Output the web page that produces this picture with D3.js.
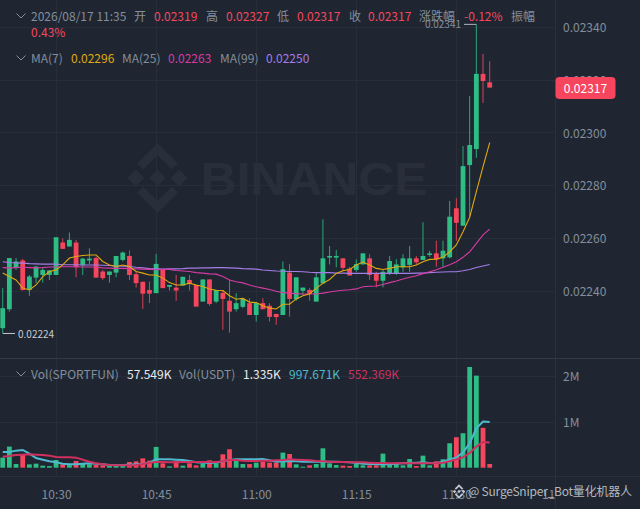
<!DOCTYPE html>
<html><head><meta charset="utf-8">
<script src="https://cdn.jsdelivr.net/npm/d3@7/dist/d3.min.js"></script>
<style>html,body{margin:0;padding:0;background:#1f2631;overflow:hidden}svg{display:block}
text{font-family:"Noto Sans CJK SC","Noto Sans",sans-serif}</style></head><body>
<script>
// prices are in units of 0.00001
const open=[2225.7,2232.9,2248.7,2251.4,2240.2,2244.9,2245.9,2245.9,2245.9,2258.2,2256.7,2258.2,2249.6,2251.4,2252.3,2247.2,2245.9,2246.8,2251.6,2253.1,2246.2,2243.3,2240.2,2239.0,2248.1,2241.4,2241.1,2241.9,2244.0,2242.1,2235.8,2244.2,2235.8,2239.1,2236.1,2232.9,2233.8,2235.2,2230.7,2235.2,2234.2,2231.1,2230.7,2246.8,2236.7,2239.9,2240.2,2235.8,2242.7,2252.5,2252.5,2252.2,2248.3,2247.8,2249.9,2252.2,2246.5,2243.7,2246.5,2246.5,2248.8,2249.7,2252.2,2251.6,2253.5,2254.1,2252.2,2252.6,2271.2,2264.6,2287.6,2293.7,2322.2,2319];
const high=[2240.9,2252.3,2252.3,2252.0,2245.9,2249.3,2248.8,2247.8,2260.2,2259.8,2262.0,2259.2,2252.4,2256.0,2252.9,2247.8,2247.2,2253.1,2254.8,2255.2,2247.2,2243.3,2243.4,2253.9,2248.1,2242.1,2245.9,2245.2,2245.9,2242.1,2244.2,2244.2,2240.2,2240.2,2244.0,2239.0,2237.1,2237.1,2235.2,2237.1,2235.2,2231.1,2251.0,2250.0,2245.0,2241.1,2240.9,2246.9,2267.0,2256.9,2255.4,2252.2,2249.0,2251.8,2254.1,2253.8,2247.1,2247.8,2253.1,2251.9,2253.8,2256.9,2253.1,2265.9,2255.1,2258.9,2258.9,2274.0,2275.0,2294.8,2313.8,2341,2329.8,2327];
const low=[2223.8,2232.0,2247.8,2240.0,2238.0,2242.8,2243.0,2244.0,2245.9,2255.8,2256.7,2245.0,2245.9,2250.0,2244.9,2244.0,2243.0,2245.0,2251.0,2244.0,2241.1,2233.0,2235.2,2239.0,2240.9,2240.0,2236.1,2241.9,2240.0,2233.9,2235.8,2234.2,2235.2,2225.1,2224.0,2232.0,2233.3,2230.7,2228.2,2232.9,2228.2,2227.0,2230.7,2230.1,2236.1,2238.3,2236.1,2235.8,2242.7,2249.9,2248.8,2247.5,2245.7,2247.1,2249.9,2244.0,2241.2,2241.2,2245.9,2245.9,2247.1,2247.1,2249.9,2251.6,2252.8,2249.0,2249.0,2252.2,2258.9,2264.6,2268.0,2290.3,2311.2,2317];
const close=[2233.3,2252.3,2251.0,2240.2,2245.3,2249.1,2247.8,2247.6,2260.2,2255.8,2259.2,2248.8,2252.1,2252.1,2244.9,2244.7,2247.2,2253.1,2254.4,2245.9,2242.8,2238.8,2238.8,2250.1,2240.9,2242.1,2240.0,2245.2,2242.6,2233.9,2244.2,2234.9,2240.2,2236.8,2232.0,2235.2,2236.8,2230.7,2235.2,2232.9,2230.0,2229.9,2248.1,2236.8,2245.0,2241.1,2238.7,2245.0,2252.2,2253.1,2253.1,2248.6,2245.7,2250.0,2254.1,2245.9,2243.7,2247.1,2251.2,2249.9,2252.2,2252.2,2250.7,2253.1,2254.1,2251.8,2255.1,2268.0,2265.7,2287.2,2295.2,2322.2,2319.5,2317];
const ma7=[2246.6,2245.3,2244.0,2240.9,2240.2,2242.1,2245.3,2247.2,2247.8,2249.7,2252.3,2252.9,2253.3,2253.5,2253.5,2251.0,2249.7,2249.1,2249.7,2249.1,2247.2,2246.6,2245.9,2245.9,2244.7,2243.0,2242.1,2242.1,2242.8,2242.1,2241.5,2240.6,2240.1,2240.0,2238.0,2236.7,2237.0,2235.6,2235.4,2234.2,2233.3,2233.0,2234.8,2234.8,2236.8,2238.0,2238.7,2240.9,2242.7,2244.2,2246.5,2247.5,2248.0,2249.7,2250.8,2249.7,2248.4,2248.0,2248.4,2249.0,2249.0,2249.0,2249.7,2250.9,2251.8,2251.9,2252.6,2254.7,2257.3,2262.3,2267.8,2277.5,2287.0,2296.1];
const ma25=[2248.7,2248.6,2248.7,2248.8,2248.7,2248.6,2248.7,2248.9,2248.9,2249.0,2249.0,2249.0,2248.9,2248.9,2248.8,2248.6,2248.5,2248.4,2248.4,2248.3,2248.2,2248.1,2248.0,2247.9,2248.0,2248.0,2247.6,2247.4,2247.2,2246.8,2246.6,2246.3,2246.2,2245.3,2244.0,2243.3,2242.9,2242.1,2241.4,2240.9,2240.4,2239.7,2239.2,2239.0,2238.8,2238.7,2238.7,2238.7,2239.0,2239.4,2239.8,2240.1,2240.3,2240.6,2241.4,2241.6,2241.7,2242.3,2243.0,2243.6,2244.4,2245.0,2245.6,2246.4,2247.1,2247.9,2248.8,2249.8,2250.9,2252.6,2254.7,2257.9,2261.1,2263.3];
const ma99=[2250.9,2250.6,2250.5,2250.4,2250.2,2250.1,2250.0,2250.0,2250.0,2249.8,2249.8,2249.8,2249.7,2249.7,2249.7,2249.6,2249.5,2249.3,2249.2,2249.1,2248.8,2248.6,2248.3,2248.2,2248.1,2248.2,2248.2,2248.3,2248.5,2248.5,2248.6,2248.6,2248.7,2248.7,2248.6,2248.5,2248.3,2248.2,2248.1,2247.8,2247.6,2247.4,2247.3,2247.2,2247.2,2247.1,2246.9,2246.8,2246.8,2246.8,2246.6,2246.6,2246.5,2246.5,2246.5,2246.5,2246.5,2246.5,2246.5,2246.5,2246.5,2246.5,2246.6,2246.6,2246.8,2246.9,2247.0,2247.1,2247.1,2247.5,2248.0,2248.7,2249.3,2249.9];
// volumes in thousands
const vol=[219,460,80,277,73,88,44,36,168,73,58,146,95,73,58,51,44,36,51,124,139,204,153,453,95,29,146,44,95,51,88,161,95,292,402,146,80,80,110,131,110,110,329,299,73,22,51,80,423,95,58,44,36,80,51,51,51,307,66,80,51,190,36,263,51,139,183,533,664,752,2197,2008,869,80];
const volMaUsdtFast=[343,343,372,387,307,212,175,139,117,88,73,73,88,95,88,73,58,51,58,66,73,88,110,182,182,182,175,168,146,117,110,110,110,139,168,182,182,182,182,190,161,131,139,146,139,131,131,131,131,131,131,124,117,102,88,80,73,73,73,88,95,102,110,117,102,95,131,182,219,328,533,861,1007,998];
const volMaUsdtSlow=[241,256,277,285,292,285,277,263,234,226,226,219,175,131,95,73,58,51,51,51,58,80,110,124,124,117,117,124,124,124,124,124,124,139,168,168,153,146,146,153,153,161,168,182,175,168,161,146,139,131,124,124,117,117,117,110,102,102,95,95,95,95,95,95,95,95,110,139,182,226,321,460,562,552];
const priceTicks=[2240,2260,2280,2300,2320,2340];
const volTicks=[1000,2000];
const volTickLabels=["1M","2M"];
const timeTickIndex=[8,23,38,53,68,83];
const timeTickLabels=["10:30","10:45","11:00","11:15","11:30","11:45"];
const headerRow=[["2026/08/17 11:35",31,"g"],["开",134,"g"],["0.02319",154,"r"],["高",206,"g"],["0.02327",226,"r"],["低",277,"g"],["0.02317",297,"r"],["收",349,"g"],["0.02317",368,"r"],["涨跌幅",419,"g"],["-0.12%",464,"r"],["振幅",511,"g"]];
const maRow=[["MA(7)",31,"g"],["0.02296",71,"y"],["MA(25)",122,"g"],["0.02263",168,"p"],["MA(99)",220,"g"],["0.02250",266,"v"]];
const volRow=[["Vol(SPORTFUN)",31,"g"],["57.549K",127,"w"],["Vol(USDT)",179,"g"],["1.335K",243,"w"],["997.671K",289,"c"],["552.369K",348,"m"]];

const W=640,H=509,paneR=555;
const green="#2ebd85",red="#f6465d",grid="#272e39",grey="#848e9c";
const col={g:grey,r:red,y:"#e0a90e",p:"#d63ba3",v:"#a67ce8",w:"#eaecef",c:"#4fb9cf",m:"#cf3060"};
const svg=d3.select("body").append("svg").attr("width",W).attr("height",H);
svg.append("rect").attr("width",W).attr("height",H).attr("fill","#1f2631");
svg.append("defs").append("clipPath").attr("id","pane").append("rect").attr("width",paneR).attr("height",H);

const x=d3.scaleLinear().domain([0,73]).range([2.7,489.7]);
const y=d3.scaleLinear().domain([2340,2240]).range([27,290.5]);
const yv=d3.scaleLinear().domain([0,2000]).range([467.7,376]);

// grid
const gg=svg.append("g").attr("stroke",grid).attr("stroke-width",1).attr("clip-path","url(#pane)");
priceTicks.forEach(t=>gg.append("line").attr("x1",0).attr("x2",paneR).attr("y1",Math.round(y(t))+.5).attr("y2",Math.round(y(t))+.5));
volTicks.forEach(t=>gg.append("line").attr("x1",0).attr("x2",paneR).attr("y1",Math.round(yv(t))+.5).attr("y2",Math.round(yv(t))+.5));
timeTickIndex.forEach(t=>gg.append("line").attr("x1",Math.round(x(t))+.5).attr("x2",Math.round(x(t))+.5).attr("y1",0).attr("y2",476));
svg.append("line").attr("x1",paneR+.5).attr("x2",paneR+.5).attr("y1",0).attr("y2",H).attr("stroke","#2b313c");
svg.append("line").attr("x1",0).attr("x2",W).attr("y1",358.5).attr("y2",358.5).attr("stroke","#333a45");
svg.append("line").attr("x1",0).attr("x2",W).attr("y1",476.5).attr("y2",476.5).attr("stroke","#2b313c");

// big watermark
const wm=svg.append("g").attr("fill","#282f3a");
const logo=(g,cx,cy,s)=>{
  const t=g.append("g").attr("transform",`translate(${cx},${cy}) scale(${s})`);
  t.append("path").attr("d","M0,-3.4 L3.4,0 L0,3.4 L-3.4,0Z M-12.5,0 L-9,-3.5 L-5.5,0 L-9,3.5Z M12.5,0 L9,-3.5 L5.5,0 L9,3.5Z"
   +"M0,-14.5 L8.5,-6 L6,-3.5 L0,-9.5 L-6,-3.5 L-8.5,-6Z M0,14.5 L8.5,6 L6,3.5 L0,9.5 L-6,3.5 L-8.5,6Z");
  return t;
};
logo(wm,157.5,178,2.4);
wm.append("text").attr("x",200.5).attr("y",195).attr("textLength",227).attr("lengthAdjust","spacingAndGlyphs")
  .style("font-family","'Liberation Sans',sans-serif").attr("font-weight",700).attr("font-size",46).text("BINANCE");

// candles
const idx=d3.range(open.length);
const cc=i=>close[i]>=open[i]?green:red;
const cg=svg.append("g");
cg.selectAll("line").data(idx).join("line")
  .attr("x1",i=>x(i)).attr("x2",i=>x(i)).attr("y1",i=>y(high[i])).attr("y2",i=>y(low[i]))
  .attr("stroke",cc).attr("stroke-width",1).attr("stroke-opacity",0.85);
cg.selectAll("rect").data(idx).join("rect")
  .attr("x",i=>x(i)-2.4).attr("width",4.8)
  .attr("y",i=>y(Math.max(open[i],close[i])))
  .attr("height",i=>Math.max(1,Math.abs(y(open[i])-y(close[i]))))
  .attr("fill",cc);

// moving averages
const line=(sc,arr)=>d3.line().x((d,i)=>x(i)).y(d=>sc(d)).curve(d3.curveLinear)(arr);
[[ma99,col.v],[ma25,col.p],[ma7,col.y]].forEach(([a,c])=>
  svg.append("path").attr("d",line(y,a)).attr("fill","none").attr("stroke",c).attr("stroke-width",1.1));

// volume
svg.append("g").selectAll("rect").data(idx).join("rect")
  .attr("x",i=>x(i)-2.4).attr("width",4.8)
  .attr("y",i=>yv(vol[i])).attr("height",i=>yv(0)-yv(vol[i])).attr("fill",cc);
[[volMaUsdtFast,col.c],[volMaUsdtSlow,col.m]].forEach(([a,c])=>
  svg.append("path").attr("d",line(yv,a)).attr("fill","none").attr("stroke",c).attr("stroke-width",2));

// axes
const styleAxis=g=>{g.select(".domain").remove();g.selectAll(".tick line").remove();
  g.selectAll("text").attr("fill",grey).attr("font-size",12);};
svg.append("g").attr("transform",`translate(${paneR},1)`)
  .call(d3.axisRight(y).tickValues(priceTicks).tickSize(0).tickPadding(8).tickFormat(d=>(d/1e5).toFixed(5))).call(styleAxis);
svg.append("g").attr("transform",`translate(${paneR},1)`)
  .call(d3.axisRight(yv).tickValues(volTicks).tickSize(0).tickPadding(8).tickFormat((d,i)=>volTickLabels[i])).call(styleAxis);
svg.append("g").attr("transform","translate(0,483)").attr("clip-path","url(#pane)")
  .call(d3.axisBottom(x).tickValues(timeTickIndex).tickSize(0).tickPadding(7).tickFormat((d,i)=>timeTickLabels[i])).call(styleAxis);

// current price tag
svg.append("rect").attr("x",555.5).attr("y",77).attr("width",60).attr("height",22).attr("rx",4).attr("fill",red);
svg.append("text").attr("x",585.5).attr("y",93).attr("text-anchor","middle").attr("fill","#fff").attr("font-size",12).text((close[73]/1e5).toFixed(5));

// high / low markers
svg.append("line").attr("x1",464).attr("x2",x(71)).attr("y1",y(2341)).attr("y2",y(2341)).attr("stroke","#aeb4bc");
svg.append("text").attr("x",461).attr("y",y(2341)+3.5).attr("text-anchor","end").attr("fill",grey).attr("font-size",10).text("0.02341");
svg.append("line").attr("x1",x(0)).attr("x2",15).attr("y1",y(2224)+.8).attr("y2",y(2224)+.8).attr("stroke","#c4c8ce");
svg.append("text").attr("x",18).attr("y",y(2224)+5).attr("fill","#c8ccd2").attr("font-size",10).text("0.02224");

// legends
const chev=(cy)=>svg.append("path").attr("d",`M16.5,${cy-2.5} L21,${cy+2} L25.5,${cy-2.5}`).attr("fill","none").attr("stroke",grey).attr("stroke-width",1);
const row=(items,base)=>items.forEach(([t,px,c])=>svg.append("text").attr("x",px).attr("y",base).attr("fill",col[c]).attr("font-size",12).text(t));
chev(16);chev(58);chev(374);
row(headerRow,21);
svg.append("text").attr("x",31).attr("y",37).attr("fill",red).attr("font-size",12).text("0.43%");
row(maRow,63);
row(volRow,379);

// bottom watermark
const wm2=svg.append("g").attr("fill","#c4c8ce");
logo(wm2,459,491.5,0.5);
svg.append("text").attr("x",468).attr("y",495.5).attr("textLength",164).attr("fill","#b4b8bf").attr("font-size",12).text("@ SurgeSniper_Bot量化机器人");
</script></body></html>
